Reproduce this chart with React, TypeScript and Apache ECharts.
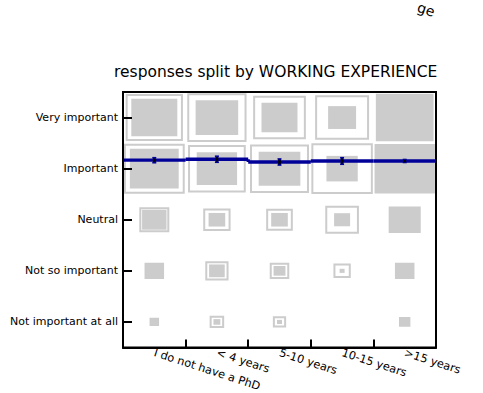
import React, { useEffect, useRef } from "react";
import * as echarts from "echarts";

const categories = ["I do not have a PhD", "< 4 years", "5-10 years", "10-15 years", ">15 years"];
// bottom to top
const levels = ["Not important at all", "Not so important", "Neutral", "Important", "Very important"];

// relative side of the filled square (group share), per level (bottom->top), per category
const fillNotAtAll = [0.128, 0.11, 0.08, 0, 0.16];
const fillNotSo = [0.288, 0.25, 0.19, 0.08, 0.29];
const fillNeutral = [0.39, 0.266, 0.266, 0.256, 0.49];
const fillImportant = [0.78, 0.645, 0.666, 0.5, 0.95];
const fillVery = [0.735, 0.68, 0.575, 0.447, 0.905];

// relative side of the outlined square (reference share)
const outlineNotAtAll = [0.12, 0.2, 0.18, 0, 0.15];
const outlineNotSo = [0.28, 0.34, 0.28, 0.245, 0.28];
const outlineNeutral = [0.447, 0.405, 0.394, 0.506, 0.48];
const outlineImportant = [0.94, 0.89, 0.91, 0.95, 0.93];
const outlineVery = [0.883, 0.915, 0.81, 0.83, 0.89];

// mean response (0 = Not important at all ... 4 = Very important) and its error
const means = [3.165, 3.184, 3.13, 3.15, 3.15];
const errors = [0.05, 0.06, 0.06, 0.065, 0.03];

const titleText = "responses split by WORKING EXPERIENCE";

const fillRows = [fillNotAtAll, fillNotSo, fillNeutral, fillImportant, fillVery];
const outlineRows = [outlineNotAtAll, outlineNotSo, outlineNeutral, outlineImportant, outlineVery];

export default function App() {
  const ref = useRef<HTMLDivElement>(null);
  useEffect(() => {
    if (!ref.current) return;
    const chart = echarts.init(ref.current, null, { renderer: "svg" });
    const squareData: number[][] = [];
    for (let y = 0; y < levels.length; y++) {
      for (let x = 0; x < categories.length; x++) {
        squareData.push([x, y, fillRows[y][x], outlineRows[y][x]]);
      }
    }
    const lineData = means.map((m, i) => [i, m, errors[i]]);
    const font = "DejaVu Sans, sans-serif";
    chart.setOption({
      animation: false,
      title: {
        text: titleText,
        left: 109,
        top: 59,
        textStyle: { fontSize: 15.5, fontWeight: "normal", color: "#000", fontFamily: font },
      },
      grid: {
        left: 123,
        top: 92,
        right: 47,
        bottom: 42,
        show: true,
        borderColor: "#000",
        borderWidth: 2,
        containLabel: false,
      },
      xAxis: {
        type: "category",
        data: categories,
        boundaryGap: true,
        z: 10,
        axisLine: { show: true, lineStyle: { color: "#000", width: 2 } },
        axisTick: { show: true, interval: 0, inside: true, length: 8, lineStyle: { color: "#000", width: 2 } },
        axisLabel: { rotate: -18, fontSize: 11.3, color: "#000", fontFamily: font, margin: 5, interval: 0 },
        splitLine: { show: false },
      },
      yAxis: {
        type: "category",
        data: levels,
        boundaryGap: true,
        z: 10,
        axisLine: { show: true, lineStyle: { color: "#000", width: 2 } },
        axisTick: { show: true, interval: 0, inside: true, alignWithLabel: true, length: 9, lineStyle: { color: "#000", width: 2 } },
        axisLabel: { fontSize: 11, color: "#000", fontFamily: font, margin: 5, interval: 0 },
        splitLine: { show: false },
      },
      graphic: [
        {
          type: "text",
          x: 420,
          y: 0,
          rotation: -0.31,
          style: { text: "ge", fontSize: 14, fill: "#000", fontFamily: font },
        },
      ],
      series: [
        {
          type: "custom",
          coordinateSystem: "cartesian2d",
          data: squareData,
          renderItem: (params: any, api: any) => {
            const x = api.value(0);
            const y = api.value(1);
            const f = api.value(2);
            const o = api.value(3);
            const c = api.coord([x, y]);
            const s = api.size([1, 1]);
            const children: any[] = [];
            if (o > 0) {
              const w = s[0] * o;
              const h = s[1] * o;
              children.push({
                type: "rect",
                shape: { x: c[0] - w / 2, y: c[1] - h / 2, width: w, height: h },
                style: { fill: "none", stroke: "#cccccc", lineWidth: 2 },
              });
            }
            if (f > 0) {
              const w = s[0] * f;
              const h = s[1] * f;
              children.push({
                type: "rect",
                shape: { x: c[0] - w / 2, y: c[1] - h / 2, width: w, height: h },
                style: { fill: "#cccccc", stroke: "none" },
              });
            }
            return { type: "group", children };
          },
          z: 2,
        },
        {
          type: "custom",
          coordinateSystem: "cartesian2d",
          data: lineData,
          renderItem: (params: any, api: any) => {
            const i = api.value(0);
            const m = api.value(1);
            const e = api.value(2);
            const s = api.size([1, 1]);
            const base = api.coord([i, 0]);
            const cx = base[0];
            const yOf = (v: number) => base[1] - v * s[1];
            const ym = yOf(m);
            const children: any[] = [];
            const left = cx - s[0] / 2;
            const right = cx + s[0] / 2;
            const blue = "#000099";
            children.push({
              type: "line",
              shape: { x1: left, y1: ym, x2: right, y2: ym },
              style: { stroke: blue, lineWidth: 3.3 },
            });
            if (i > 0) {
              const yp = yOf(means[i - 1]);
              children.push({
                type: "line",
                shape: { x1: left, y1: yp, x2: left, y2: ym },
                style: { stroke: blue, lineWidth: 3.3 },
              });
            }
            const y1 = yOf(m + e);
            const y2 = yOf(m - e);
            children.push({
              type: "line",
              shape: { x1: cx, y1, x2: cx, y2 },
              style: { stroke: "#000033", lineWidth: 3 },
            });
            children.push({
              type: "line",
              shape: { x1: cx - 2, y1, x2: cx + 2, y2: y1 },
              style: { stroke: blue, lineWidth: 1.5 },
            });
            children.push({
              type: "line",
              shape: { x1: cx - 2, y1: y2, x2: cx + 2, y2 },
              style: { stroke: blue, lineWidth: 1.5 },
            });
            children.push({
              type: "circle",
              shape: { cx, cy: ym, r: 1.2 },
              style: { fill: "#000" },
            });
            return { type: "group", children };
          },
          z: 5,
        },
      ],
    });
    return () => chart.dispose();
  }, []);
  return (
    <div
      ref={ref}
      style={{ position: "fixed", left: 0, top: 0, width: 483, height: 393, background: "#fff" }}
    />
  );
}
